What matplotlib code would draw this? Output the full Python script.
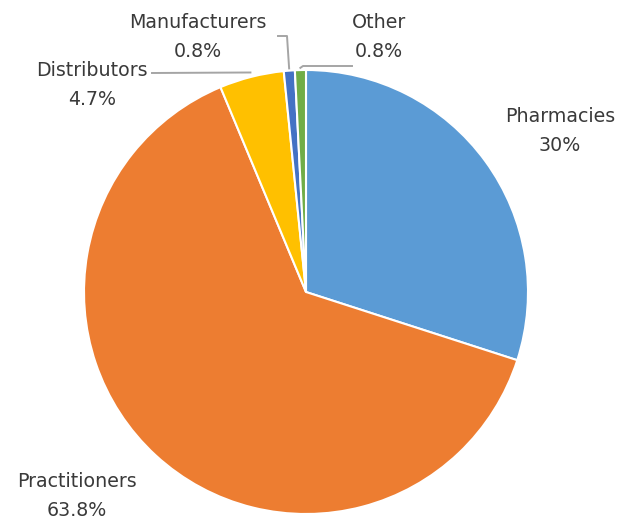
import numpy as np
import matplotlib.pyplot as plt

# Data
labels = ['Pharmacies', 'Practitioners', 'Distributors', 'Manufacturers', 'Other']
shares = [30, 63.8, 4.7, 0.8, 0.8]
pct_text = ['30%', '63.8%', '4.7%', '0.8%', '0.8%']
colors = ['#5B9BD5', '#ED7D31', '#FFC000', '#4472C4', '#70AD47']

W, H = 618, 521
cx, cy, R = 306, H - 292, 222

fig = plt.figure(figsize=(W / 100, H / 100), dpi=100)
ax = fig.add_axes([0, 0, 1, 1])

ax.pie(shares, colors=colors, startangle=90, counterclock=False,
       center=(cx, cy), radius=R, frame=True,
       wedgeprops=dict(edgecolor='white', linewidth=1.5))
ax.set_xlim(0, W)
ax.set_ylim(0, H)
ax.set_aspect('equal')
ax.axis('off')

# mid angles of each wedge (degrees)
total = sum(shares)
cum = np.cumsum([0] + shares)
mids = [90 - 360 * (cum[i] + shares[i] / 2) / total for i in range(len(shares))]


def rim(i, f=1.02):
    a = np.deg2rad(mids[i])
    return cx + f * R * np.cos(a), cy + f * R * np.sin(a)


# label positions in pixel coords (x, y from top)
label_pos = [(560, 131), (77, 496), (92, 85), (198, 37), (379, 37)]
txt_color = '#3A3A3A'
for i, (px, py) in enumerate(label_pos):
    ax.text(px, H - py, f'{labels[i]}\n{pct_text[i]}', ha='center', va='center',
            fontsize=13.7, color=txt_color, linespacing=1.62)

# leader lines
lc = '#A5A5A5'
x0, y0 = rim(2, 1.02)
ax.plot([152, x0], [H - 73, y0], color=lc, lw=1.4)
x1, y1 = rim(3, 1.01)
ax.plot([278, 287, x1], [H - 36, H - 36, y1], color=lc, lw=1.4)
x2, y2 = rim(4, 1.01)
ax.plot([352, 303, x2], [H - 66, H - 66, y2], color=lc, lw=1.4)

plt.savefig('out.png', dpi=100)
